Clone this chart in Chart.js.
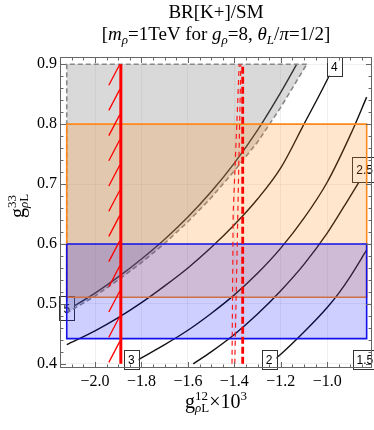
<!DOCTYPE html>
<html lang="en">
<head>
<meta charset="UTF-8">
<title>BR[K+]/SM</title>
<script src="https://cdn.jsdelivr.net/npm/chart.js@4.4.1/dist/chart.umd.min.js"></script>
<style>
  body { margin: 0; background: #fff; }
  #wrap { position: relative; width: 374px; height: 430px; font-family: 'Liberation Serif', 'Times New Roman', serif; color: #000; }
  #chart { position: absolute; left: 0; top: 0; }
  .ttl { position: absolute; left: 60px; width: 312px; text-align: center; font-size: 19px; line-height: 19px; white-space: nowrap; }
  #t1 { top: 2px; }
  #t2 { top: 24px; }
  .ttl sub { font-size: 13px; line-height: 0; vertical-align: -4px; }
  .ss { display: inline-block; font-size: 13px; line-height: 12px; vertical-align: -4px; text-align: left; }
  .ss span { display: block; }
  #ylab { position: absolute; left: -8px; top: 194px; width: 50px; height: 24px; line-height: 24px; font-size: 20px; text-align: center; transform: rotate(-90deg); white-space: nowrap; }
  #xlab { position: absolute; left: 60px; width: 312px; top: 390px; font-size: 20px; line-height: 20px; text-align: center; white-space: nowrap; }
  #xlab sup { font-size: 13px; line-height: 0; vertical-align: 8px; }
</style>
</head>
<body>
<div id="wrap">
  <canvas id="chart" width="374" height="430"></canvas>
  <div class="ttl" id="t1">BR[K+]/SM</div>
  <div class="ttl" id="t2">[<i>m</i><sub><i>ρ</i></sub>=1TeV for <i>g</i><sub><i>ρ</i></sub>=8, <i>θ</i><sub><i>L</i></sub>/<i>π</i>=1/2]</div>
  <div id="ylab">g<span class="ss"><span>33</span><span><i>ρ</i>L</span></span></div>
  <div id="xlab">g<span class="ss"><span>12</span><span><i>ρ</i>L</span></span>×10<sup>3</sup></div>
</div>

<script>
// axis ranges and ticks (x = g12 * 10^3, y = g33)
const xMin = -2.151, xMax = -0.807;
const yMin = 0.393, yMax = 0.912;
const xTicks = [-2.0, -1.8, -1.6, -1.4, -1.2, -1.0];
const yTicks = [0.4, 0.5, 0.6, 0.7, 0.8, 0.9];

// contours of BR[K+]/SM
const levels = ['5', '4', '3', '2.5', '2', '1.5'];
const curve5 = [[-2.122,0.489],[-2.0,0.518],[-1.9,0.545],[-1.8,0.575],[-1.7,0.608],[-1.6,0.645],[-1.5,0.687],[-1.4,0.735],[-1.3,0.79],[-1.2,0.853],[-1.131,0.9]];
const curve4 = [[-2.122,0.432],[-2.0,0.455],[-1.9,0.477],[-1.8,0.502],[-1.7,0.53],[-1.6,0.56],[-1.5,0.594],[-1.4,0.632],[-1.3,0.675],[-1.2,0.727],[-1.1,0.8],[-1.0,0.874],[-0.969,0.9]];
const curve3 = [[-1.844,0.4],[-1.8,0.41],[-1.7,0.432],[-1.6,0.456],[-1.5,0.484],[-1.4,0.515],[-1.3,0.551],[-1.2,0.593],[-1.1,0.643],[-1.0,0.703],[-0.9,0.782],[-0.83,0.845]];
const curve25 = [[-1.577,0.4],[-1.5,0.42],[-1.4,0.449],[-1.3,0.483],[-1.2,0.522],[-1.1,0.566],[-1.0,0.618],[-0.9,0.68],[-0.83,0.724]];
const curve2 = [[-1.25,0.4],[-1.2,0.416],[-1.1,0.453],[-1.0,0.494],[-0.95,0.518],[-0.9,0.546],[-0.83,0.59]];
const curve15 = [[-0.846,0.4],[-0.83,0.408]];
const labelAt = ['first', 'last', 'first', 'last', 'first', 'first'];

// gray excluded region (dashed edge)
const grayLeft = -2.122, grayTop = 0.9;
const grayEdge = [[-2.122,0.485],[-2.0,0.513],[-1.9,0.54],[-1.8,0.569],[-1.7,0.601],[-1.6,0.637],[-1.5,0.677],[-1.4,0.722],[-1.3,0.77],[-1.2,0.828],[-1.088,0.9]];

// orange and blue bands
const orangeX = [-2.122, -0.83], orangeY = [0.511, 0.8];
const blueX = [-2.122, -0.83], blueY = [0.442, 0.6];

// red bounds
const redY = [0.4, 0.9];
const redSolidX = -1.889;
const redDashX = -1.364;
const redThin1 = [[-1.41,0.4],[-1.405,0.65],[-1.379,0.9]];
const redThin2 = [[-1.398,0.4],[-1.385,0.65],[-1.372,0.9]];

const pts = a => a.map(p => ({x: p[0], y: p[1]}));
const fmt = v => (v < 0 ? '\u2212' : '') + Math.abs(v).toFixed(1);
const curves = [curve5, curve4, curve3, curve25, curve2, curve15];

function rectFill(xs, ys) {
  return [[xs[0], ys[1]], [xs[0], ys[0]], [xs[1], ys[0]], [xs[1], ys[1]]];
}
function rectEdge(xs, ys) {
  return [[xs[0], ys[1]], [xs[0], ys[0]], [xs[1], ys[0]], [xs[1], ys[1]], [xs[0], ys[1]]];
}

const datasets = [];
curves.forEach((c, i) => datasets.push({
  label: 'BR/SM = ' + levels[i], data: pts(c), borderColor: '#111', borderWidth: 1.4,
  pointRadius: 0, fill: false, cubicInterpolationMode: 'monotone', order: 6
}));
datasets.push({
  label: 'gray', data: pts([[grayLeft, grayTop]].concat(grayEdge)), fill: 'shape',
  backgroundColor: 'rgba(128,128,128,0.3)', borderWidth: 0, pointRadius: 0, order: 5
});
datasets.push({
  label: 'gray edge', data: pts([[grayEdge[grayEdge.length - 1][0], grayTop], [grayLeft, grayTop]].concat(grayEdge)),
  fill: false, borderColor: '#8a8a8a', borderWidth: 1.6, borderDash: [5, 3], pointRadius: 0, order: 5
});
datasets.push({
  label: 'orange', data: pts(rectFill(orangeX, orangeY)), fill: 'shape',
  backgroundColor: 'rgba(255,128,0,0.2)', borderWidth: 0, pointRadius: 0, order: 4
});
datasets.push({
  label: 'orange edge', data: pts(rectEdge(orangeX, orangeY)), fill: false,
  borderColor: '#ff8a1e', borderWidth: 1.6, pointRadius: 0, order: 4
});
datasets.push({
  label: 'blue', data: pts(rectFill(blueX, blueY)), fill: 'shape',
  backgroundColor: 'rgba(0,0,255,0.19)', borderWidth: 0, pointRadius: 0, order: 3
});
datasets.push({
  label: 'blue edge', data: pts(rectEdge(blueX, blueY)), fill: false,
  borderColor: '#1414e6', borderWidth: 1.6, pointRadius: 0, order: 3
});
[redThin1, redThin2].forEach(r => datasets.push({
  label: 'red band', data: pts(r), fill: false, borderColor: '#ff1a1a', borderWidth: 1.2,
  borderDash: [5, 4], pointRadius: 0, order: 2
}));
datasets.push({
  label: 'red dashed', data: pts([[redDashX, redY[0]], [redDashX, redY[1]]]), fill: false,
  borderColor: '#ff0000', borderWidth: 2.8, borderDash: [7, 3], pointRadius: 0, order: 2
});
datasets.push({
  label: 'red solid', data: pts([[redSolidX, redY[0]], [redSolidX, redY[1]]]), fill: false,
  borderColor: '#ff0000', borderWidth: 3, pointRadius: 0, order: 1
});

// contour labels go on top of the black lines but under the shaded bands
const contourLabels = {
  id: 'contourLabels',
  afterDatasetDraw(chart, args) {
    if (args.index !== 0) return;
    const {ctx, scales: {x, y}} = chart;
    ctx.save();
    ctx.font = '12px "Liberation Sans", Arial, sans-serif';
    ctx.textAlign = 'center';
    ctx.textBaseline = 'middle';
    curves.forEach((c, i) => {
      const p = labelAt[i] === 'first' ? c[0] : c[c.length - 1];
      let px = x.getPixelForValue(p[0]);
      let py = y.getPixelForValue(p[1]);
      let h = 19;
      if (p[1] <= 0.4) py -= 4;
      else if (p[1] >= 0.9) py += 2;
      if (p[0] <= -2.12) { py -= 2; h = 24; }
      if (p[0] >= -0.831 && p[1] > 0.5) { px -= 2; h = 25; }
      if (p[1] <= 0.4 && p[0] > -0.9) px += 2;
      const w = ctx.measureText(levels[i]).width + 8;
      ctx.fillStyle = '#fff';
      ctx.fillRect(px - w / 2, py - h / 2, w, h);
      ctx.strokeStyle = '#333';
      ctx.lineWidth = 1;
      ctx.strokeRect(Math.round(px - w / 2) + 0.5, Math.round(py - h / 2) + 0.5, Math.round(w), Math.round(h));
      ctx.fillStyle = '#000';
      ctx.fillText(levels[i], px, py + 1);
    });
    ctx.restore();
  }
};

// slashes on the excluded side of the solid red bound
const hatch = {
  id: 'hatch',
  afterDatasetsDraw(chart) {
    const {ctx, scales: {x, y}} = chart;
    const px = x.getPixelForValue(redSolidX);
    const top = y.getPixelForValue(redY[1]);
    const bottom = y.getPixelForValue(redY[0]);
    ctx.save();
    ctx.strokeStyle = '#ff0000';
    ctx.lineWidth = 1.3;
    ctx.beginPath();
    for (let yy = top; yy + 20 <= bottom; yy += 25.2) {
      ctx.moveTo(px - 1, yy);
      ctx.lineTo(px - 12, yy + 21);
    }
    ctx.stroke();
    ctx.restore();
  }
};

// Mathematica style frame with inward ticks on all four sides
const frame = {
  id: 'frame',
  afterDraw(chart) {
    const {ctx, chartArea: a, scales: {x, y}} = chart;
    ctx.save();
    ctx.strokeStyle = '#666';
    ctx.lineWidth = 1;
    ctx.beginPath();
    for (let v = -2.15; v <= xMax; v += 0.05) {
      const major = xTicks.some(t => Math.abs(t - v) < 1e-6);
      const len = major ? 6 : 3.5;
      const px = Math.round(x.getPixelForValue(v)) + 0.5;
      ctx.moveTo(px, a.bottom); ctx.lineTo(px, a.bottom - len);
      ctx.moveTo(px, a.top); ctx.lineTo(px, a.top + len);
    }
    for (let v = 0.4; v <= yMax; v += 0.02) {
      const major = yTicks.some(t => Math.abs(t - v) < 1e-6);
      const len = major ? 6 : 3.5;
      const py = Math.round(y.getPixelForValue(v)) + 0.5;
      ctx.moveTo(a.left, py); ctx.lineTo(a.left + len, py);
      ctx.moveTo(a.right, py); ctx.lineTo(a.right - len, py);
    }
    ctx.stroke();
    ctx.strokeRect(Math.round(a.left) + 0.5, Math.round(a.top) + 0.5, Math.round(a.width) - 1, Math.round(a.height) - 1);
    ctx.restore();
  }
};

const tickFont = {family: "'Liberation Serif', 'Times New Roman', serif", size: 16};

new Chart(document.getElementById('chart').getContext('2d'), {
  type: 'line',
  data: {datasets},
  options: {
    responsive: false,
    devicePixelRatio: 1,
    animation: false,
    events: [],
    layout: {padding: {top: 57, right: 2, left: 0, bottom: 0}},
    plugins: {legend: {display: false}, tooltip: {enabled: false}, title: {display: false}},
    scales: {
      x: {
        type: 'linear', min: xMin, max: xMax,
        afterBuildTicks: s => { s.ticks = xTicks.map(v => ({value: v})); },
        afterFit: s => { s.height = 62; },
        grid: {drawTicks: false, color: 'rgba(0,0,0,0.06)'},
        border: {display: false},
        ticks: {callback: fmt, font: tickFont, color: '#000', padding: 4, maxRotation: 0, autoSkip: false}
      },
      y: {
        type: 'linear', min: yMin, max: yMax,
        afterBuildTicks: s => { s.ticks = yTicks.map(v => ({value: v})); },
        afterFit: s => { s.width = 60; },
        grid: {drawTicks: false, color: 'rgba(0,0,0,0.06)'},
        border: {display: false},
        ticks: {callback: v => v.toFixed(1), font: tickFont, color: '#000', padding: 3, autoSkip: false}
      }
    }
  },
  plugins: [contourLabels, hatch, frame]
});
</script>
</body>
</html>
